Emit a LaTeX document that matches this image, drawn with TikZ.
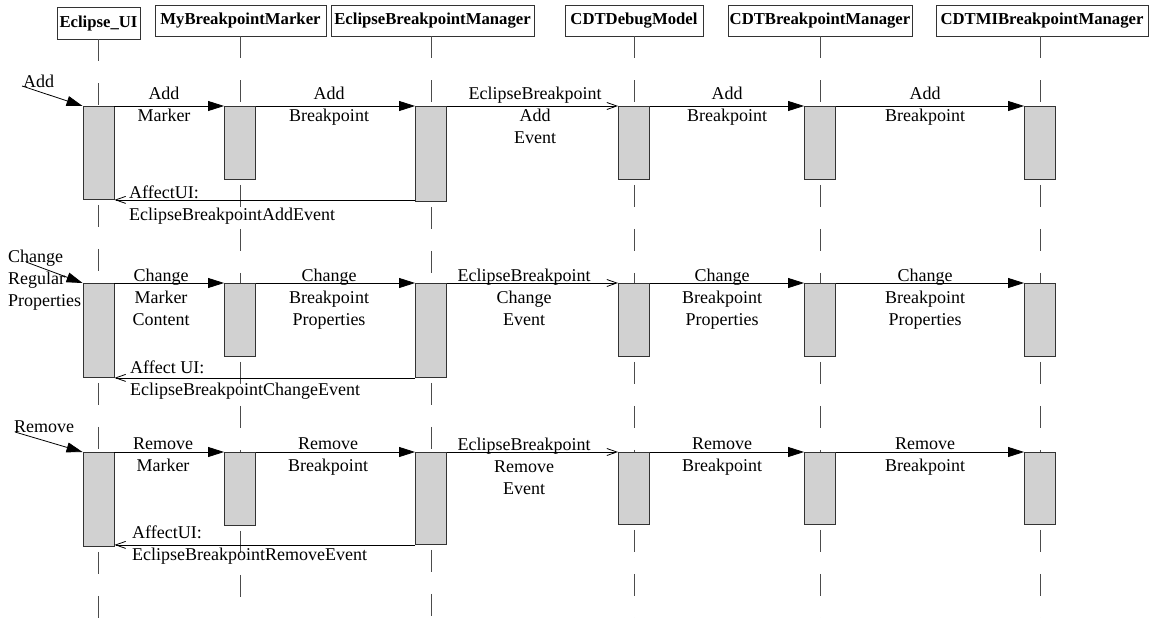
\documentclass[tikz,border=0pt]{standalone}
\usepackage{fontspec}
\setmainfont{Liberation Serif}
\usetikzlibrary{arrows.meta}
\begin{document}
\begin{tikzpicture}[x=1pt,y=-1pt,
  hdr/.style={draw=black!80, line width=0.8pt, fill=white, inner sep=0pt, minimum height=31pt, font=\fontsize{16.7}{20}\selectfont\bfseries},
  act/.style={draw=black!80, line width=0.9pt, fill=black!18, inner sep=0pt, minimum width=31pt, anchor=north},
  life/.style={draw=black!70, line width=0.8pt, dash pattern=on 22pt off 22pt},
  sync/.style={draw=black, line width=0.8pt, -{Triangle[length=16pt,width=10pt]}},
  async/.style={draw=black, line width=0.8pt, -{Straight Barb[length=10pt,width=7pt]}},
  lbl/.style={inner sep=0pt, align=center, font=\fontsize{18}{22}\selectfont, anchor=north},
  lbll/.style={inner sep=0pt, align=left, font=\fontsize{18}{21.5}\selectfont, anchor=north west},
]
\useasboundingbox (0,0) rectangle (1151,618);
\fill[white] (0,0) rectangle (1151,618);

% headers
\node[hdr, minimum width=83pt, minimum height=32pt] (he) at (98.5,23) {Eclipse\_UI};
\node[hdr, minimum width=171pt] (hm) at (240.5,20.5) {MyBreakpointMarker};
\node[hdr, minimum width=203pt] (hb) at (432.5,20.5) {EclipseBreakpointManager};
\node[hdr, minimum width=138pt] (hc) at (634,20.5) {CDTDebugModel};
\node[hdr, minimum width=184pt] (hd) at (820,20.5) {CDTBreakpointManager};
\node[hdr, minimum width=212pt] (hf) at (1042,20.5) {CDTMIBreakpointManager};

% activation boxes row 1
\node[act, minimum height=93pt] (e1) at (98.5,106) {};
\node[act, minimum height=73pt] (m1) at (240,106) {};
\node[act, minimum height=95pt] (b1) at (431,106) {};
\node[act, minimum height=73pt] (c1) at (634,106) {};
\node[act, minimum height=73pt] (d1) at (820,106) {};
\node[act, minimum height=73pt] (f1) at (1040,106) {};
% row 2
\node[act, minimum height=94pt] (e2) at (98.5,283) {};
\node[act, minimum height=73pt] (m2) at (240,283) {};
\node[act, minimum height=94pt] (b2) at (431,283) {};
\node[act, minimum height=73pt] (c2) at (634,283) {};
\node[act, minimum height=73pt] (d2) at (820,283) {};
\node[act, minimum height=73pt] (f2) at (1040,283) {};
% row 3
\node[act, minimum height=94pt] (e3) at (98.5,452) {};
\node[act, minimum height=73pt] (m3) at (240,452) {};
\node[act, minimum height=92pt] (b3) at (431,452) {};
\node[act, minimum height=72pt] (c3) at (634,452) {};
\node[act, minimum height=72pt] (d3) at (820,452) {};
\node[act, minimum height=72pt] (f3) at (1040,452) {};

\coordinate (bottom) at (0,618);

% lifelines
\foreach \col in {e,m,b,c,d,f}{
  \draw[life] (\col1.north |- h\col.south) -- (\col1.north);
  \draw[life, dash phase=39pt] (\col1.south) -- (\col2.north);
  \draw[life, dash phase=39pt] (\col2.south) -- (\col3.north);
  \draw[life, dash phase=39pt] (\col3.south) -- (\col3.south |- bottom);
}

% input arrows
\coordinate (in1) at (22,86);
\coordinate (in2) at (26,262);
\coordinate (in3) at (15,432);
\draw[sync] (in1) -- (e1.north west);
\draw[sync] (in2) -- (e2.north west);
\draw[sync] (in3) -- (e3.north west);
\node[inner sep=0pt, anchor=base west, font=\fontsize{18}{22}\selectfont] (lin1) at (23,87) {Add};
\node[lbll, font=\fontsize{18}{22}\selectfont] (lin2) at (8,250) {Change\\Regular\\Properties};
\node[inner sep=0pt, anchor=base west, font=\fontsize{18}{22}\selectfont] (lin3) at (14,432) {Remove};

% row 1 messages
\draw[sync] (e1.north east) -- (m1.north west);
\draw[sync] (m1.north east) -- (b1.north west);
\draw[async] (b1.north east) -- (c1.north west);
\draw[sync] (c1.north east) -- (d1.north west);
\draw[sync] (d1.north east) -- (f1.north west);
\draw[async] (b1.west |- e1.south) -- (e1.south east);
\node[lbl] (l11) at (164,87) {Add\\Marker};
\node[lbl] (l12) at (329,87) {Add\\Breakpoint};
\node[lbl] (l13) at (535,87) {EclipseBreakpoint\\Add\\Event};
\node[lbl] (l14) at (727,87) {Add\\Breakpoint};
\node[lbl] (l15) at (925,87) {Add\\Breakpoint};
\node[lbll] (l16) at (129,186) {AffectUI:\\EclipseBreakpointAddEvent};

% row 2 messages
\draw[sync] (e2.north east) -- (m2.north west);
\draw[sync] (m2.north east) -- (b2.north west);
\draw[async] (b2.north east) -- (c2.north west);
\draw[sync] (c2.north east) -- (d2.north west);
\draw[sync] (d2.north east) -- (f2.north west);
\draw[async] (b2.south west) -- (e2.south east);
\node[lbl] (l21) at (161,269) {Change\\Marker\\Content};
\node[lbl] (l22) at (329,269) {Change\\Breakpoint\\Properties};
\node[lbl] (l23) at (524,269) {EclipseBreakpoint\\Change\\Event};
\node[lbl] (l24) at (722,269) {Change\\Breakpoint\\Properties};
\node[lbl] (l25) at (925,269) {Change\\Breakpoint\\Properties};
\node[lbll] (l26) at (130,361) {Affect UI:\\EclipseBreakpointChangeEvent};

% row 3 messages
\draw[sync] (e3.north east) -- (m3.north west);
\draw[sync] (m3.north east) -- (b3.north west);
\draw[async] (b3.north east) -- (c3.north west);
\draw[sync] (c3.north east) -- (d3.north west);
\draw[sync] (d3.north east) -- (f3.north west);
\draw[async] (b3.south west) -- (e3.east |- b3.south west);
\node[lbl] (l31) at (163,438) {Remove\\Marker};
\node[lbl] (l32) at (328,438) {Remove\\Breakpoint};
\node[lbl] (l33) at (524,438) {EclipseBreakpoint\\Remove\\Event};
\node[lbl] (l34) at (722,438) {Remove\\Breakpoint};
\node[lbl] (l35) at (925,438) {Remove\\Breakpoint};
\node[lbll] (l36) at (132,526) {AffectUI:\\EclipseBreakpointRemoveEvent};
\end{tikzpicture}
\end{document}
